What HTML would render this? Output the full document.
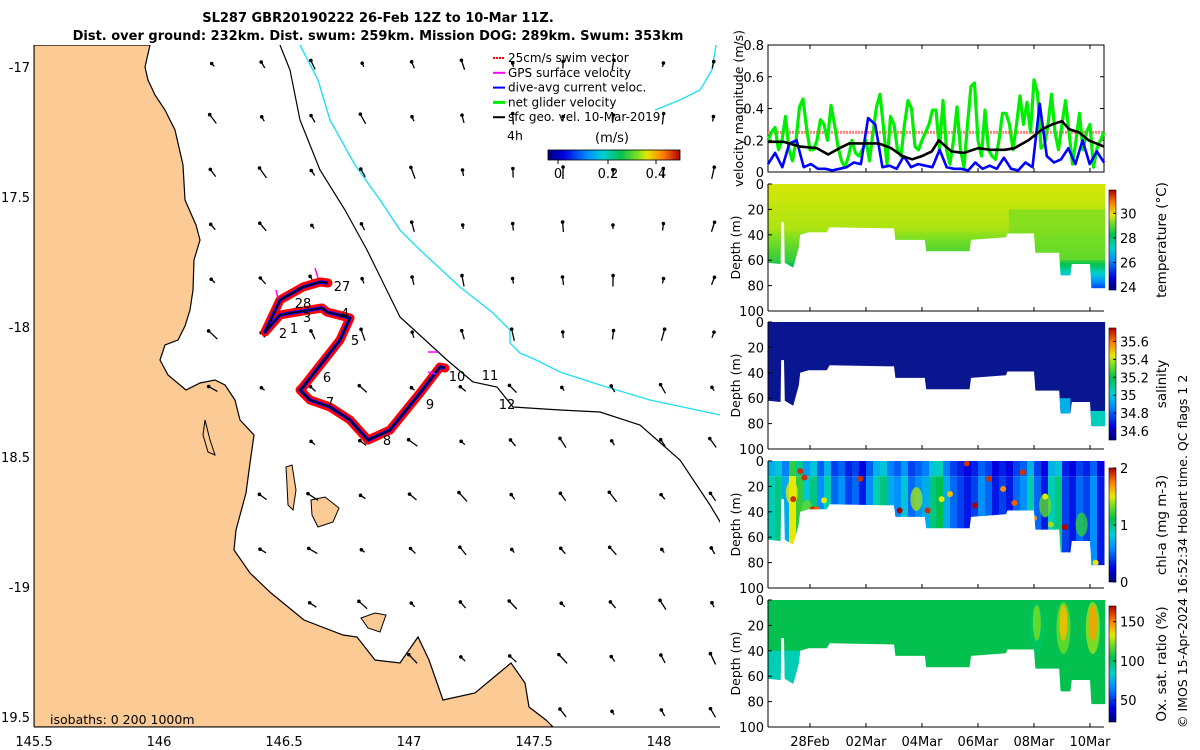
<!DOCTYPE html>
<html><head><meta charset="utf-8">
<style>
html,body{margin:0;padding:0;background:#fff;}
svg{display:block;font-family:"DejaVu Sans","Liberation Sans",sans-serif;}
</style></head>
<body>
<svg id="fig" width="1200" height="750" viewBox="0 0 1200 750" xmlns="http://www.w3.org/2000/svg">
<defs>
  <clipPath id="mapclip"><rect x="34" y="45" width="686" height="682"/></clipPath>
  <linearGradient id="cmapH" x1="0" y1="0" x2="1" y2="0">
    <stop offset="0" stop-color="#00007f"/><stop offset="0.12" stop-color="#0000e0"/><stop offset="0.3" stop-color="#0090ff"/><stop offset="0.42" stop-color="#00d0d0"/><stop offset="0.55" stop-color="#00c050"/><stop offset="0.68" stop-color="#80e020"/><stop offset="0.75" stop-color="#e8e800"/><stop offset="0.87" stop-color="#ff8000"/><stop offset="1" stop-color="#b00000"/>
  </linearGradient>
  <linearGradient id="cmapV" x1="0" y1="1" x2="0" y2="0">
    <stop offset="0" stop-color="#00007f"/><stop offset="0.12" stop-color="#0000e0"/><stop offset="0.3" stop-color="#0090ff"/><stop offset="0.42" stop-color="#00d0d0"/><stop offset="0.55" stop-color="#00c050"/><stop offset="0.68" stop-color="#80e020"/><stop offset="0.75" stop-color="#e8e800"/><stop offset="0.87" stop-color="#ff8000"/><stop offset="1" stop-color="#b00000"/>
  </linearGradient>
</defs>

<text x="378" y="22" text-anchor="middle" font-size="13" font-weight="bold">SL287 GBR20190222 26-Feb 12Z to 10-Mar 11Z.</text>
<text x="378" y="40" text-anchor="middle" font-size="13" font-weight="bold">Dist. over ground: 232km. Dist. swum: 259km. Mission DOG: 289km. Swum: 353km</text>

<g id="map"></g>
<g id="right"></g>

<text transform="translate(1187,728) rotate(-90)" font-size="12.5">© IMOS 15-Apr-2024 16:52:34 Hobart time. QC flags 1  2</text>
</svg>
<script>
// ---------- DATA ----------
const days = ["28Feb","02Mar","04Mar","06Mar","08Mar","10Mar"];
const dayT = [1.5,3.5,5.5,7.5,9.5,11.5];
const velTicks = [0,0.2,0.4,0.6,0.8];
const netGlider = [0.2,0.25,0.28,0.14,0.2,0.35,0.14,0.07,0.2,0.41,0.46,0.28,0.14,0.14,0.2,0.33,0.3,0.2,0.42,0.3,0.16,0.07,0.03,0.1,0.2,0.12,0.1,0.14,0.2,0.07,0.25,0.41,0.49,0.28,0.05,0.35,0.3,0.14,0.1,0.3,0.45,0.4,0.16,0.14,0.2,0.25,0.3,0.39,0.39,0.14,0.45,0.14,0.05,0.2,0.41,0.14,0.03,0.3,0.54,0.56,0.2,0.1,0.39,0.14,0.1,0.08,0.2,0.37,0.37,0.3,0.14,0.3,0.48,0.3,0.44,0.25,0.58,0.5,0.15,0.17,0.3,0.49,0.25,0.14,0.3,0.45,0.25,0.05,0.2,0.37,0.14,0.25,0.3,0.03,0.15,0.2,0.25];
const diveAvg = [0.05,0.12,0.03,0.18,0.2,0.03,0.05,0.02,0.02,0.01,0.02,0.03,0.06,0.05,0.34,0.3,0.03,0.04,0.02,0.1,0.03,0.05,0.04,0.03,0.14,0.03,0.02,0.02,0.01,0.06,0.02,0.04,0.02,0.09,0.02,0.01,0.06,0.03,0.43,0.1,0.06,0.08,0.15,0.05,0.2,0.05,0.13,0.06];
const geoT = [0,0.55,1.15,1.75,2.15,2.55,2.9,3.6,3.95,4.4,4.8,5.15,5.5,5.85,6.1,6.55,7.0,7.5,7.95,8.45,8.8,9.3,9.8,10.15,10.5,10.75,11.1,11.45,12];
const geoV = [0.19,0.19,0.16,0.15,0.11,0.15,0.18,0.18,0.18,0.15,0.1,0.08,0.1,0.13,0.2,0.13,0.12,0.15,0.14,0.14,0.15,0.2,0.27,0.3,0.32,0.27,0.25,0.2,0.16];
const swimRef = 0.25;
const profT = [0,0.45,0.47,0.57,0.6,0.9,1.1,1.15,1.45,2.1,2.2,4.5,4.55,5.6,5.65,7.2,7.25,8.5,8.55,9.5,9.55,10.4,10.45,10.8,10.85,11.5,11.55,12.04];
const profD = [62,63,30,30,62,66,50,40,38,38,34,35,44,44,53,53,44,42,39,39,54,54,72,72,63,63,82,82];
const chlCols = [0.9,1.0,0.7,1.5,1.2,0.8,1.0,0.6,0.9,0.5,0.6,0.4,0.5,0.3,0.6,0.9,1.0,0.7,0.6,0.8,0.5,0.6,0.7,1.0,1.1,0.7,0.5,0.4,0.3,0.4,0.6,0.5,0.3,0.4,0.3,0.5,0.6,0.9,0.5,0.3,0.9,1.0,0.4,0.3,0.5,0.4,0.6,0.3];
const chlDotT = [0.9,1.15,1.3,1.6,1.75,2.0,3.3,3.6,4.7,4.9,5.3,5.7,6.2,6.5,7.1,7.4,7.9,8.4,8.8,9.1,9.5,9.9,10.1,10.6,11.7];
const chlDotD = [30,8,13,38,38,31,14,37,39,50,48,39,30,26,2,35,14,22,33,9,45,28,50,52,80];
const chlDotV = [1.9,1.9,1.9,1.9,1.8,1.5,1.9,1.9,2.0,1.9,1.9,1.9,1.5,1.6,1.9,2.0,1.9,1.7,1.8,1.9,1.7,1.5,1.4,2.0,1.5];
const oxyBlobT = [9.6,10.55,11.6];
const oxyBlobV = [120,140,145];
const tempTicks=[24,26,28,30], salTicks=[34.6,34.8,35,35.2,35.4,35.6], chlTicks=[0,1,2], oxyTicks=[50,100,150];

const NS="http://www.w3.org/2000/svg";
function mk(tag,attrs,parent){const e=document.createElementNS(NS,tag);for(const k in attrs)e.setAttribute(k,attrs[k]);parent.appendChild(e);return e;}
const stops=[[0,[0,0,127]],[0.12,[0,0,224]],[0.3,[0,144,255]],[0.42,[0,208,208]],[0.55,[0,192,80]],[0.68,[128,224,32]],[0.75,[232,232,0]],[0.87,[255,128,0]],[1,[176,0,0]]];
function cmap(f){f=Math.max(0,Math.min(1,f));for(let i=1;i<stops.length;i++){if(f<=stops[i][0]){const a=stops[i-1],b=stops[i];const r=(f-a[0])/(b[0]-a[0]);const c=a[1].map((v,j)=>Math.round(v+(b[1][j]-v)*r));return `rgb(${c[0]},${c[1]},${c[2]})`;}}return "rgb(176,0,0)";}

// ---------- MAP ----------
const map=document.getElementById('map');
const lonX=l=>34+(l-145.5)*250;
const latY=l=>67+(-17-l)*260;
const mg=mk('g',{'clip-path':'url(#mapclip)'},map);
const coast=[[150,45],[145,67],[148,80],[155,95],[165,110],[175,130],[183,165],[185,200],[196,225],[200,240],[194,260],[193,290],[190,310],[185,326],[178,340],[165,345],[160,360],[168,375],[186,390],[200,383],[215,380],[225,385],[235,400],[240,420],[254,435],[250,463],[246,493],[236,530],[234,550],[250,573],[271,593],[304,620],[343,635],[357,637],[375,660],[400,663],[418,637],[429,660],[443,700],[475,693],[511,663],[525,683],[529,707],[546,720],[553,727],[34,727],[34,45]];
const land=mk('polygon',{points:coast.map(p=>p.join(',')).join(' '),fill:'#fcca94',stroke:'#000','stroke-width':1.2},mg);

const islands=[[[311,500],[325,497],[339,508],[333,522],[318,527],[312,515]],[[286,467],[292,465],[296,490],[293,510],[288,505],[287,485]],[[361,618],[375,613],[386,615],[380,632],[368,628]],[[205,420],[210,440],[215,455],[208,452],[203,435]]];
islands.forEach((is,i)=>{const e=mk('polygon',{points:is.map(p=>p.join(',')).join(' '),fill:'#fcca94',stroke:'#000','stroke-width':1},mg);});
const iso200=[[280,45],[290,70],[300,120],[320,170],[345,210],[367,250],[400,317],[447,360],[473,382],[497,387],[513,407],[560,410],[600,412],[640,425],[680,460],[710,505],[725,530]];
const iso1000=[[300,45],[318,80],[330,120],[355,165],[380,200],[400,230],[420,250],[460,287],[493,313],[510,330],[510,343],[520,353],[536,360],[560,372],[600,385],[650,400],[720,415]];
const iso1000b=[[716,45],[712,70],[700,90],[680,100],[655,110]];
let e=mk('polyline',{points:iso200.map(p=>p.join(',')).join(' '),fill:'none',stroke:'#000','stroke-width':1.2},mg);
e=mk('polyline',{points:iso1000.map(p=>p.join(',')).join(' '),fill:'none',stroke:'#22e0f0','stroke-width':1.4},mg);
e=mk('polyline',{points:iso1000b.map(p=>p.join(',')).join(' '),fill:'none',stroke:'#22e0f0','stroke-width':1.4},mg);
function coastX(y){for(let i=0;i<coast.length-3;i++){const a=coast[i],b=coast[i+1];if(y>=a[1]&&y<=b[1]&&b[1]>a[1])return a[0]+(b[0]-a[0])*(y-a[1])/(b[1]-a[1]);}return 200;}
const ag=mk('g',{},mg);
for(let r=0;r<13;r++){for(let c=0;c<11;c++){const x=213+c*50,y=65+r*54;if(x<coastX(y)+15)continue;
 const ang=(r<6? -2.3+0.1*c : -2.6+0.05*c)+0.1*Math.sin(r+c);const len=4+((r*7+c*3)%9);
 const hx=x+Math.cos(ang)*len*0.5,hy=y+Math.sin(ang)*len*0.5,tx=x-Math.cos(ang)*len*0.5,ty=y-Math.sin(ang)*len*0.5;
 mk('line',{x1:tx,y1:ty,x2:hx,y2:hy,stroke:'#000','stroke-width':1.3},ag);mk('circle',{cx:hx,cy:hy,r:1.8,fill:'#000'},ag);}}
const track=[[328,283],[320,282],[303,287],[280,300],[265,332],[280,315],[297,312],[322,308],[327,312],[350,318],[340,340],[303,387],[300,390],[310,400],[330,407],[350,420],[368,440],[390,430],[420,393],[440,367],[445,368]];
const tp=track.map(p=>p.join(',')).join(' ');
e=mk('polyline',{points:tp,fill:'none',stroke:'#ff0000','stroke-width':9,'stroke-linejoin':'round','stroke-linecap':'round'},mg);
e=mk('polyline',{points:tp,fill:'none',stroke:'#0000ff','stroke-width':3.5,'stroke-linejoin':'round'},mg);
e=mk('polyline',{points:tp,fill:'none',stroke:'#000','stroke-width':1.6,'stroke-linejoin':'round'},mg);
[[318,278,315,268],[278,298,276,290],[438,352,428,352],[436,374,428,372]].forEach(a=>{mk('line',{x1:a[0],y1:a[1],x2:a[2],y2:a[3],stroke:'#ff00ff','stroke-width':1.5},mg);});
const dayLbl=[["27",342,291],["28",303,308],["3",307,322],["2",283,338],["1",294,333],["4",345,318],["5",355,345],["6",327,382],["7",330,407],["8",387,445],["9",430,409],["10",457,381],["11",490,380],["12",507,409]];
dayLbl.forEach(d=>{const t=mk('text',{x:d[1],y:d[2],'font-size':13,'text-anchor':'middle'},mg);t.textContent=d[0];});
mk('line',{x1:34,y1:45,x2:34,y2:727,stroke:'#000'},map);mk('line',{x1:34,y1:727,x2:720,y2:727,stroke:'#000'},map);
[["145.5",145.5],["146",146],["146.5",146.5],["147",147],["147.5",147.5],["148",148]].forEach(l=>{const t=mk('text',{x:lonX(l[1]),y:746,'font-size':13,'text-anchor':'middle'},map);t.textContent=l[0];});
[["-17",-17],["17.5",-17.5],["-18",-18],["18.5",-18.5],["-19",-19],["19.5",-19.5]].forEach(l=>{const t=mk('text',{x:30,y:latY(l[1])+5,'font-size':13,'text-anchor':'end'},map);t.textContent=l[0];});
let t=mk('text',{x:50,y:724,'font-size':12.5},map);t.textContent='isobaths: 0   200  1000m';
const leg=mk('g',{},map);
const legItems=[["25cm/s swim vector","#ff0000",true],["GPS surface velocity","#ff00ff",false],["dive-avg current veloc.","#0000ff",false],["net glider velocity","#00ee00",false],["sfc geo. vel. 10-Mar-2019","#000",false]];
legItems.forEach((it,i)=>{const y=62+i*14.8;mk('line',{x1:493,y1:y-4,x2:505,y2:y-4,stroke:it[1],'stroke-width':it[1]=='#00ee00'?3:2,'stroke-dasharray':it[2]?'2,1':''},leg);const tx=mk('text',{x:508,y:y,'font-size':12},leg);tx.textContent=it[0];});
t=mk('text',{x:507,y:140,'font-size':12.5},map);t.textContent='4h';
t=mk('text',{x:612,y:142,'font-size':13,'text-anchor':'middle'},map);t.textContent='(m/s)';
e=mk('rect',{x:548,y:150,width:132,height:10,fill:'url(#cmapH)',stroke:'#000','stroke-width':0.8},map);
[["0",558],["0.2",608],["0.4",656]].forEach(l=>{const tx=mk('text',{x:l[1],y:178,'font-size':13,'text-anchor':'middle'},map);tx.textContent=l[0];mk('line',{x1:l[1],y1:160,x2:l[1],y2:164,stroke:'#000'},map);});

// ---------- RIGHT PANELS ----------
const R=document.getElementById('right');
const X0=768,X1=1104,tx=tv=>X0+tv*(X1-X0)/12;
const vT=45,vB=172,vy=v=>vB-(v/0.8)*(vB-vT);
e=mk('rect',{x:X0,y:vT,width:X1-X0,height:vB-vT,fill:'#fff',stroke:'#000'},R);
velTicks.forEach(v=>{const y=vy(v);mk('line',{x1:X0,y1:y,x2:X0+4,y2:y,stroke:'#000'},R);mk('line',{x1:X1,y1:y,x2:X1-4,y2:y,stroke:'#000'},R);const l=mk('text',{x:X0-4,y:y+5,'font-size':13,'text-anchor':'end'},R);l.textContent=String(v);});
dayT.forEach(d=>{mk('line',{x1:tx(d),y1:vB,x2:tx(d),y2:vB-4,stroke:'#000'},R);mk('line',{x1:tx(d),y1:vT,x2:tx(d),y2:vT+4,stroke:'#000'},R);});
t=mk('text',{transform:`translate(743,${(vT+vB)/2}) rotate(-90)`,'font-size':12.5,'text-anchor':'middle'},R);t.textContent='velocity magnitude (m/s)';
e=mk('line',{x1:X0,y1:vy(swimRef),x2:X1,y2:vy(swimRef),stroke:'#ff8080','stroke-width':3,'stroke-dasharray':'2,1'},R);
function series(vals,ts,col,w,name){const pts=vals.map((v,i)=>`${tx(ts?ts[i]:i*12/(vals.length-1)).toFixed(1)},${vy(v).toFixed(1)}`).join(' ');const p=mk('polyline',{points:pts,fill:'none',stroke:col,'stroke-width':w,'stroke-linejoin':'round'},R);}
series(netGlider,null,'#00ee00',3.2,'net-glider-velocity-line');
series(diveAvg,null,'#0000ff',2.6,'dive-avg-current-line');
series(geoV,geoT,'#000',2.6,'geostrophic-velocity-line');

const panels=[{top:184,name:'temperature',label:'temperature (°C)',ticks:tempTicks,lo:23.76,hi:31.9,cbT:190,cbB:290},
{top:322,name:'salinity',label:'salinity',ticks:salTicks,lo:34.5,hi:35.75,cbT:328,cbB:440},
{top:461,name:'chlorophyll',label:'chl-a (mg m-3)',ticks:chlTicks,lo:0,hi:2,cbT:468,cbB:582},
{top:600,name:'oxygen',label:'Ox. sat. ratio (%)',ticks:oxyTicks,lo:22,hi:170,cbT:606,cbB:722}];
const H=127;
panels.forEach((P,pi)=>{
 const dy=d=>P.top+d*H/100;
 const g=mk('g',{},R);
 const cid='clip'+pi;const cp=mk('clipPath',{id:cid},g);
 let pts=`${tx(0)},${dy(0)} `+profT.map((tt,i)=>`${tx(tt).toFixed(1)},${dy(profD[i]).toFixed(1)}`).join(' ')+` ${tx(12.04)},${dy(0)}`;
 mk('polygon',{points:pts},cp);
 const fg=mk('g',{'clip-path':`url(#${cid})`},g);
 const f=v=>(v-P.lo)/(P.hi-P.lo);
 if(pi===0){for(let d=0;d<90;d+=2){const v=d<35?29.75-d*0.006:d<60?29.5-(d-35)*0.035:28.6-(d-60)*0.15;mk('rect',{x:X0,y:dy(d),width:X1-X0+2,height:H*2/100+0.5,fill:cmap(f(v))},fg);}
  mk('rect',{x:tx(8.6),y:dy(20),width:tx(12.1)-tx(8.6),height:dy(60)-dy(20),fill:cmap(f(29.2)),opacity:0.7},fg);}
 if(pi===1){mk('rect',{x:X0,y:dy(0),width:X1-X0+2,height:H,fill:'#0a1690'},fg);
  mk('rect',{x:tx(10.4),y:dy(60),width:tx(10.8)-tx(10.4),height:dy(80)-dy(60),fill:cmap(f(34.95))},fg);
  mk('rect',{x:tx(11.5),y:dy(70),width:tx(12.1)-tx(11.5),height:dy(85)-dy(70),fill:cmap(f(35.05))},fg);}
 if(pi===2){chlCols.forEach((v,i)=>{const w=(X1-X0)/chlCols.length;const x=X0+i*w;mk('rect',{x:x,y:dy(0),width:w+0.5,height:dy(12)-dy(0),fill:cmap(f(v*0.8))},fg);mk('rect',{x:x,y:dy(12),width:w+0.5,height:H,fill:cmap(f(v))},fg);});
  [[0.85,25,1.5],[1.4,40,1.3],[5.3,30,1.4],[9.9,35,1.3],[11.2,50,1.2]].forEach(b=>{mk('ellipse',{cx:tx(b[0]),cy:dy(b[1]),rx:6,ry:12,fill:cmap(f(b[2])),opacity:0.8},fg);});
  chlDotT.forEach((dt,i)=>{const c=mk('circle',{cx:tx(dt),cy:dy(chlDotD[i]),r:3,fill:cmap(f(chlDotV[i]))},fg);});}
 if(pi===3){mk('rect',{x:X0,y:dy(0),width:X1-X0+2,height:H,fill:cmap(f(104))},fg);
  mk('rect',{x:X0,y:dy(40),width:tx(1.5)-X0,height:H,fill:cmap(f(88))},fg);
  oxyBlobT.forEach((bt,i)=>{mk('ellipse',{cx:tx(bt),cy:dy(22),rx:7,ry:26,fill:cmap(f(oxyBlobV[i]-20)),opacity:0.8},fg);mk('ellipse',{cx:tx(bt),cy:dy(18),rx:4,ry:18,fill:cmap(f(oxyBlobV[i])),opacity:0.9},fg);});}
 mk('line',{x1:X0,y1:P.top,x2:X0,y2:dy(100),stroke:'#000'},g);mk('line',{x1:X0,y1:dy(100),x2:X1,y2:dy(100),stroke:'#000'},g);
 [0,20,40,60,80,100].forEach(d=>{mk('line',{x1:X0,y1:dy(d),x2:X0+4,y2:dy(d),stroke:'#000'},g);const l=mk('text',{x:X0-4,y:dy(d)+5,'font-size':13,'text-anchor':'end'},g);l.textContent=String(d);});
 dayT.forEach(d=>mk('line',{x1:tx(d),y1:dy(100),x2:tx(d),y2:dy(100)-4,stroke:'#000'},g));
 const yl=mk('text',{transform:`translate(740,${dy(50)}) rotate(-90)`,'font-size':12.5,'text-anchor':'middle'},g);yl.textContent='Depth (m)';
 const cb=mk('rect',{x:1109,y:P.cbT,width:7,height:P.cbB-P.cbT,fill:'url(#cmapV)',stroke:'#000','stroke-width':0.6},g);
 P.ticks.forEach(v=>{const y=P.cbB-(v-P.lo)/(P.hi-P.lo)*(P.cbB-P.cbT);mk('line',{x1:1113,y1:y,x2:1116,y2:y,stroke:'#000'},g);const l=mk('text',{x:1120,y:y+5,'font-size':13},g);l.textContent=String(v);});
 const cl=mk('text',{transform:`translate(1166,${(P.cbT+P.cbB)/2}) rotate(-90)`,'font-size':13.5,'text-anchor':'middle'},g);cl.textContent=P.label;
});
days.forEach((d,i)=>{const l=mk('text',{x:tx(dayT[i]),y:746,'font-size':13,'text-anchor':'middle'},R);l.textContent=d;});
</script>
</body></html>
